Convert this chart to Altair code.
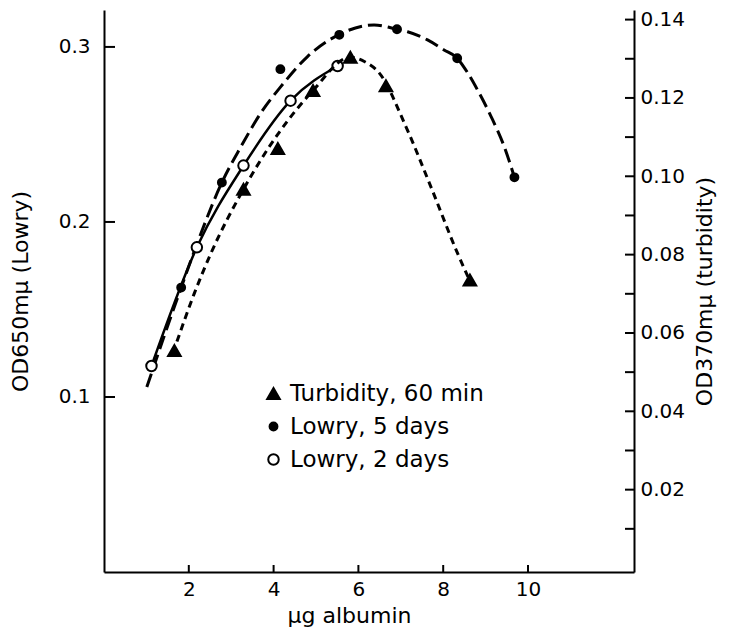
import altair as alt
import pandas as pd

# ---------------- data ----------------
series_names = ["Turbidity, 60 min", "Lowry, 5 days", "Lowry, 2 days"]

# markers
turb_x = [1.66, 3.29, 4.10, 4.93, 5.81, 6.65, 8.63]
turb_y = [0.0555, 0.0967, 0.1071, 0.1219, 0.1304, 0.1231, 0.0735]   # right axis

low5_x = [1.82, 2.78, 4.16, 5.55, 6.91, 8.33, 9.68]
low5_y = [0.1625, 0.2225, 0.2873, 0.3069, 0.3101, 0.2935, 0.2255]  # left axis

low2_x = [1.12, 2.19, 3.29, 4.40, 5.51]
low2_y = [0.1177, 0.1855, 0.2322, 0.2693, 0.2891]                   # left axis

# hand-drawn curves
curve5_x = [1.01, 1.82, 2.29, 2.78, 3.23, 3.70, 4.17, 4.80, 5.53, 6.37, 6.91, 7.16, 7.63, 8.02, 8.33, 8.58, 8.81, 9.13, 9.44, 9.68]
curve5_y = [0.1057, 0.1625, 0.1937, 0.2225, 0.2430, 0.2623, 0.2773, 0.2945, 0.3069, 0.3126, 0.3101, 0.3087, 0.3040, 0.2983, 0.2935, 0.2851, 0.2754, 0.2602, 0.2430, 0.2255]

curve2_x = [1.12, 2.19, 3.29, 4.40, 5.51]
curve2_y = [0.1177, 0.1855, 0.2322, 0.2693, 0.2891]

curvet_x = [1.72, 2.13, 2.52, 3.29, 4.93, 5.81, 6.14, 6.49, 7.12, 7.71, 8.34, 8.62]
curvet_y = [0.0578, 0.0701, 0.0803, 0.0967, 0.1219, 0.1304, 0.1293, 0.1264, 0.1127, 0.0973, 0.0803, 0.0735]

# axis ticks
x_ticks = [2, 4, 6, 8, 10]
left_ticks = [0.1, 0.2, 0.3]
right_ticks = [0.02, 0.04, 0.06, 0.08, 0.10, 0.12, 0.14]
right_minor = [0.01, 0.03, 0.05, 0.07, 0.09, 0.11, 0.13]

# ---------------- chart ----------------
W, H = 530, 562
FONT = "DejaVu Sans"

def frame(xs, ys, name=None):
    d = pd.DataFrame({"x": xs, "y": ys})
    if name is not None:
        d["series"] = name
    return d

x_enc = alt.X("x:Q", scale=alt.Scale(domain=[0, 12.5], nice=False, zero=False),
              axis=alt.Axis(values=x_ticks, ticks=False, grid=False, domainColor="black",
                            domainWidth=2, labelFontSize=20, labelPadding=7,
                            title="μg albumin", titleFontSize=22, titleFontWeight="normal",
                            titlePadding=6, titleX=245))

y_left = alt.Y("y:Q", scale=alt.Scale(domain=[0, 0.3211], nice=False, zero=False),
               axis=alt.Axis(values=left_ticks, format=".1f", ticks=False, grid=False,
                             domainColor="black", domainWidth=2, labelFontSize=20,
                             labelPadding=14, title="OD650mμ  (Lowry)", titleFontSize=22,
                             titleFontWeight="normal", titlePadding=26))

y_right = alt.Y("y:Q", scale=alt.Scale(domain=[-0.00102, 0.14245], nice=False, zero=False),
                axis=alt.Axis(orient="right", values=right_ticks, format=".2f", ticks=False,
                              grid=False, domainColor="black", domainWidth=2, labelFontSize=20,
                              labelPadding=6, title="OD370mμ  (turbidity)", titleFontSize=22,
                              titleFontWeight="normal", titleAngle=270, titleBaseline="top",
                              titlePadding=10))

shape_sc = alt.Scale(domain=series_names, range=["triangle-up", "circle", "circle"])
fill_sc = alt.Scale(domain=series_names, range=["black", "black", "white"])
stroke_sc = alt.Scale(domain=series_names, range=["black", "black", "black"])
size_sc = alt.Scale(type="ordinal", domain=series_names, range=[160, 62, 110])

def points(d, y):
    return alt.Chart(d).mark_point(filled=True, strokeWidth=2, opacity=1).encode(
        x=x_enc, y=y,
        shape=alt.Shape("series:N", scale=shape_sc, title=None),
        fill=alt.Fill("series:N", scale=fill_sc, title=None),
        stroke=alt.Stroke("series:N", scale=stroke_sc, title=None),
        size=alt.Size("series:N", scale=size_sc, title=None),
    )

line5 = alt.Chart(frame(curve5_x, curve5_y)).mark_line(
    color="black", strokeWidth=3, strokeDash=[14, 6], interpolate="monotone").encode(x=x_enc, y=y_left)
line2 = alt.Chart(frame(curve2_x, curve2_y)).mark_line(
    color="black", strokeWidth=2.5, interpolate="monotone").encode(x=x_enc, y=y_left)
linet = alt.Chart(frame(curvet_x, curvet_y)).mark_line(
    color="black", strokeWidth=3, strokeDash=[7, 5], interpolate="monotone").encode(x=x_enc, y=y_right)

pts5 = points(frame(low5_x, low5_y, series_names[1]), y_left)
pts2 = points(frame(low2_x, low2_y, series_names[2]), y_left)
ptst = points(frame(turb_x, turb_y, series_names[0]), y_right)

left_tk = alt.Chart(pd.DataFrame({"y": left_ticks})).mark_rule(color="black", strokeWidth=2).encode(
    y=y_left, x=alt.value(0), x2=alt.value(11))
x_tk = alt.Chart(pd.DataFrame({"x": x_ticks})).mark_rule(color="black", strokeWidth=2).encode(
    x=x_enc, y=alt.value(H), y2=alt.value(H - 7))
right_tk = alt.Chart(pd.DataFrame({"y": right_ticks + right_minor})).mark_rule(color="black", strokeWidth=2).encode(
    y=y_right, x=alt.value(W), x2=alt.value(W - 9))

left_group = alt.layer(line5, line2, pts5, pts2, left_tk, x_tk)
right_group = alt.layer(linet, ptst, right_tk)

chart = alt.layer(left_group, right_group).resolve_scale(y="independent").properties(
    width=W, height=H,
    autosize=alt.AutoSizeParams(type="none"),
    padding={"left": 96, "top": 2, "right": 91, "bottom": 62},
).configure_view(stroke=None).configure_axis(
    labelFont=FONT, titleFont=FONT, labelColor="black", titleColor="black"
).configure_legend(
    orient="none", legendX=158, legendY=372, labelFont=FONT, labelFontSize=23,
    labelColor="black", labelLimit=0, rowPadding=9, labelOffset=5,
    symbolStrokeWidth=2,
)

chart.save("out.html", embed_options={"renderer": "svg", "actions": False})
